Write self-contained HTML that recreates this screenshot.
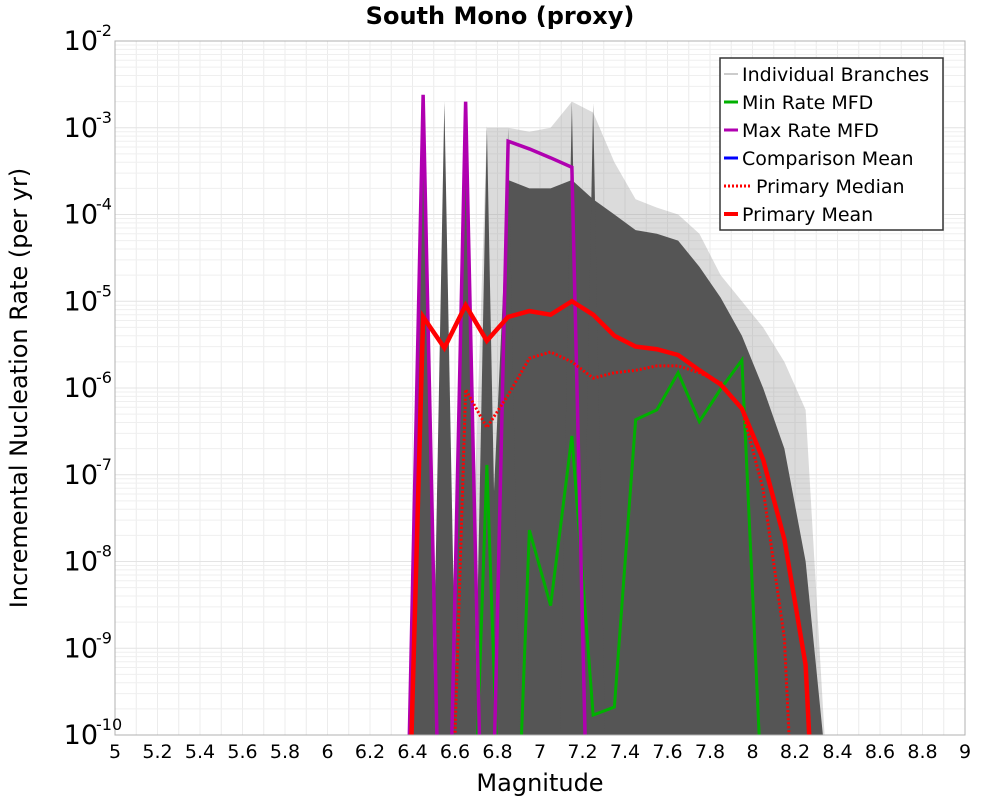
<!DOCTYPE html>
<html><head><meta charset="utf-8"><style>
body{margin:0;background:#fff;}
svg text{font-family:"DejaVu Sans","Liberation Sans",sans-serif;}
</style></head><body>
<svg id="chart" width="1000" height="800" xmlns="http://www.w3.org/2000/svg">
<text x="500" y="24" text-anchor="middle" font-size="24" font-weight="bold">South Mono (proxy)</text>
<g id="grid"></g>
<g id="branches"></g>
<g id="series"></g>
<rect x="115" y="41" width="850" height="694" fill="none" stroke="#b0b0b0" stroke-width="1"/>
<g id="xticks"></g>
<g id="yticks"></g>
<text x="540" y="791" text-anchor="middle" font-size="24">Magnitude</text>
<text transform="translate(27,388) rotate(-90)" text-anchor="middle" font-size="24">Incremental Nucleation Rate (per yr)</text>
<g>
<rect x="720" y="58" width="223" height="172" fill="#fff" stroke="#333" stroke-width="1.5"/>
<g><line x1="724" y1="74" x2="738" y2="74" stroke="#ccc" stroke-width="2"/><text x="742" y="81" font-size="19">Individual Branches</text></g>
<g><line x1="724" y1="102" x2="738" y2="102" stroke="#00b000" stroke-width="3"/><text x="742" y="109" font-size="19">Min Rate MFD</text></g>
<g><line x1="724" y1="130" x2="738" y2="130" stroke="#b000b0" stroke-width="3"/><text x="742" y="137" font-size="19">Max Rate MFD</text></g>
<g><line x1="724" y1="158" x2="738" y2="158" stroke="#0000ff" stroke-width="3"/><text x="742" y="165" font-size="19">Comparison Mean</text></g>
<g><line x1="724" y1="186" x2="752" y2="186" stroke="#ff0000" stroke-width="3" stroke-dasharray="2,2"/><text x="756" y="193" font-size="19">Primary Median</text></g>
<g><line x1="724" y1="214" x2="738" y2="214" stroke="#ff0000" stroke-width="4"/><text x="742" y="221" font-size="19">Primary Mean</text></g>
</g>
</svg>
<script>
const mags = [6.35,6.45,6.55,6.65,6.75,6.85,6.95,7.05,7.15,7.25,7.35,7.45,7.55,7.65,7.75,7.85,7.95,8.05,8.15,8.25,8.35];
const meanVals = [1e-14,6.6e-6,2.9e-6,9e-6,3.5e-6,6.6e-6,7.7e-6,7e-6,1e-5,7e-6,4e-6,3e-6,2.8e-6,2.4e-6,1.6e-6,1.1e-6,5.8e-7,1.5e-7,1.8e-8,6.4e-10,1e-14];
const medianVals = [1e-14,1e-14,1e-14,9.6e-7,3.5e-7,8.3e-7,2.2e-6,2.6e-6,2e-6,1.3e-6,1.5e-6,1.6e-6,1.8e-6,1.8e-6,1.5e-6,1.15e-6,5.8e-7,6.8e-8,1.3e-9,1e-14,1e-14];
const minVals = [1e-14,1e-14,1e-14,1e-14,1.3e-7,1e-14,2.3e-8,3.1e-9,2.8e-7,1.7e-10,2.1e-10,4.3e-7,5.6e-7,1.5e-6,4.1e-7,9.7e-7,2.1e-6,1e-11,1e-14,1e-14,1e-14];
const maxVals = [1e-14,2.4e-3,1e-14,2e-3,1e-14,7e-4,5.7e-4,4.5e-4,3.5e-4,1e-14,1e-14,1e-14,1e-14,1e-14,1e-14,1e-14,1e-14,1e-14,1e-14,1e-14,1e-14];
const branchUpper = [1e-14,1e-14,1e-14,1e-14,1e-3,1e-3,9e-4,1e-3,2e-3,1.5e-3,4e-4,1.5e-4,1.2e-4,1e-4,6e-5,2e-5,1e-5,5e-6,2e-6,5.6e-7,1e-14];
const branchDense = [1e-14,1e-14,1e-14,1e-14,1e-9,2.5e-4,2e-4,2e-4,2.5e-4,1.5e-4,1e-4,6.6e-5,6e-5,5e-5,2.5e-5,1.1e-5,4e-6,1e-6,2e-7,1e-8,1e-14];
const spikeMags = [6.45,6.55,6.65,6.75,6.85,7.15,7.25];
const spikeVals = [2.4e-3,2e-3,2e-3,1.05e-3,1e-3,2e-3,1.9e-3];
const xTicks = ["5","5.2","5.4","5.6","5.8","6","6.2","6.4","6.6","6.8","7","7.2","7.4","7.6","7.8","8","8.2","8.4","8.6","8.8","9"];
const yExps = [-2,-3,-4,-5,-6,-7,-8,-9,-10];

const NS="http://www.w3.org/2000/svg";
const L=115,R=965,T=41,B=735;
function xs(m){return L+(m-5)/4*(R-L);}
function ys(v){const e=Math.log10(v);return T+(-2-e)/8*(B-T);}
function mk(tag,attrs,parent){const el=document.createElementNS(NS,tag);for(const k in attrs)el.setAttribute(k,attrs[k]);parent.appendChild(el);return el;}
const clip=mk('clipPath',{id:'pc'},document.getElementById('chart'));
mk('rect',{x:L,y:T,width:R-L,height:B-T},clip);

const grid=document.getElementById('grid');
for(let i=0;i<=40;i++){const x=L+i*(R-L)/40;const g=mk('line',{x1:x,x2:x,y1:T,y2:B,stroke:'#ececec','stroke-width':1},grid);

}
for(let e=-10;e<-2;e++){for(let k=1;k<10;k++){const y=ys(k*Math.pow(10,e));const g=mk('line',{x1:L,x2:R,y1:y,y2:y,stroke:k==1?'#e4e4e4':'#efefef','stroke-width':1},grid);

}}

const br=document.getElementById('branches');br.setAttribute('clip-path','url(#pc)');
function poly(vals,fill,op){let d='M'+xs(mags[0])+','+(B+5);mags.forEach((m,i)=>{d+=' L'+xs(m)+','+Math.min(ys(vals[i]),B+40);});d+=' L'+xs(mags[mags.length-1])+','+(B+5)+'Z';return mk('path',{d:d,fill:fill,'fill-opacity':op},br);}
const p1=poly(branchUpper,'#999',0.35);


const p2=poly(branchDense,'#555',1);


spikeMags.forEach((m,i)=>{const s=mk('path',{d:'M'+(xs(m)-12)+','+(B+5)+' L'+xs(m)+','+ys(spikeVals[i])+' L'+(xs(m)+12)+','+(B+5)+'Z',fill:'#555'},br);

});

const ser=document.getElementById('series');ser.setAttribute('clip-path','url(#pc)');
function line(vals,color,w,dash,name){const pts=mags.map((m,i)=>xs(m)+','+ys(vals[i])).join(' ');const a={points:pts,fill:'none',stroke:color,'stroke-width':w,'stroke-linejoin':'miter'};if(dash)a['stroke-dasharray']=dash;const el=mk('polyline',a,ser);

}
line(minVals,'#00b000',3,null,'min-rate-mfd-line');
line(maxVals,'#b000b0',3.5,null,'max-rate-mfd-line');
line(medianVals,'#ff0000',3,'2,2','primary-median-line');
line(meanVals,'#ff0000',4.5,null,'primary-mean-line');

const xt=document.getElementById('xticks');
xTicks.forEach(t=>{const el=mk('text',{x:xs(parseFloat(t)),y:758,'text-anchor':'middle','font-size':19},xt);el.textContent=t;

});
const yt=document.getElementById('yticks');
yExps.forEach(e=>{const y=ys(Math.pow(10,e));const el=mk('text',{x:98,y:y+9,'text-anchor':'end','font-size':27},yt);el.textContent='10';


const s=mk('text',{x:96,y:y-5,'font-size':16},yt);s.textContent=String(e);

});
</script>
</body></html>
